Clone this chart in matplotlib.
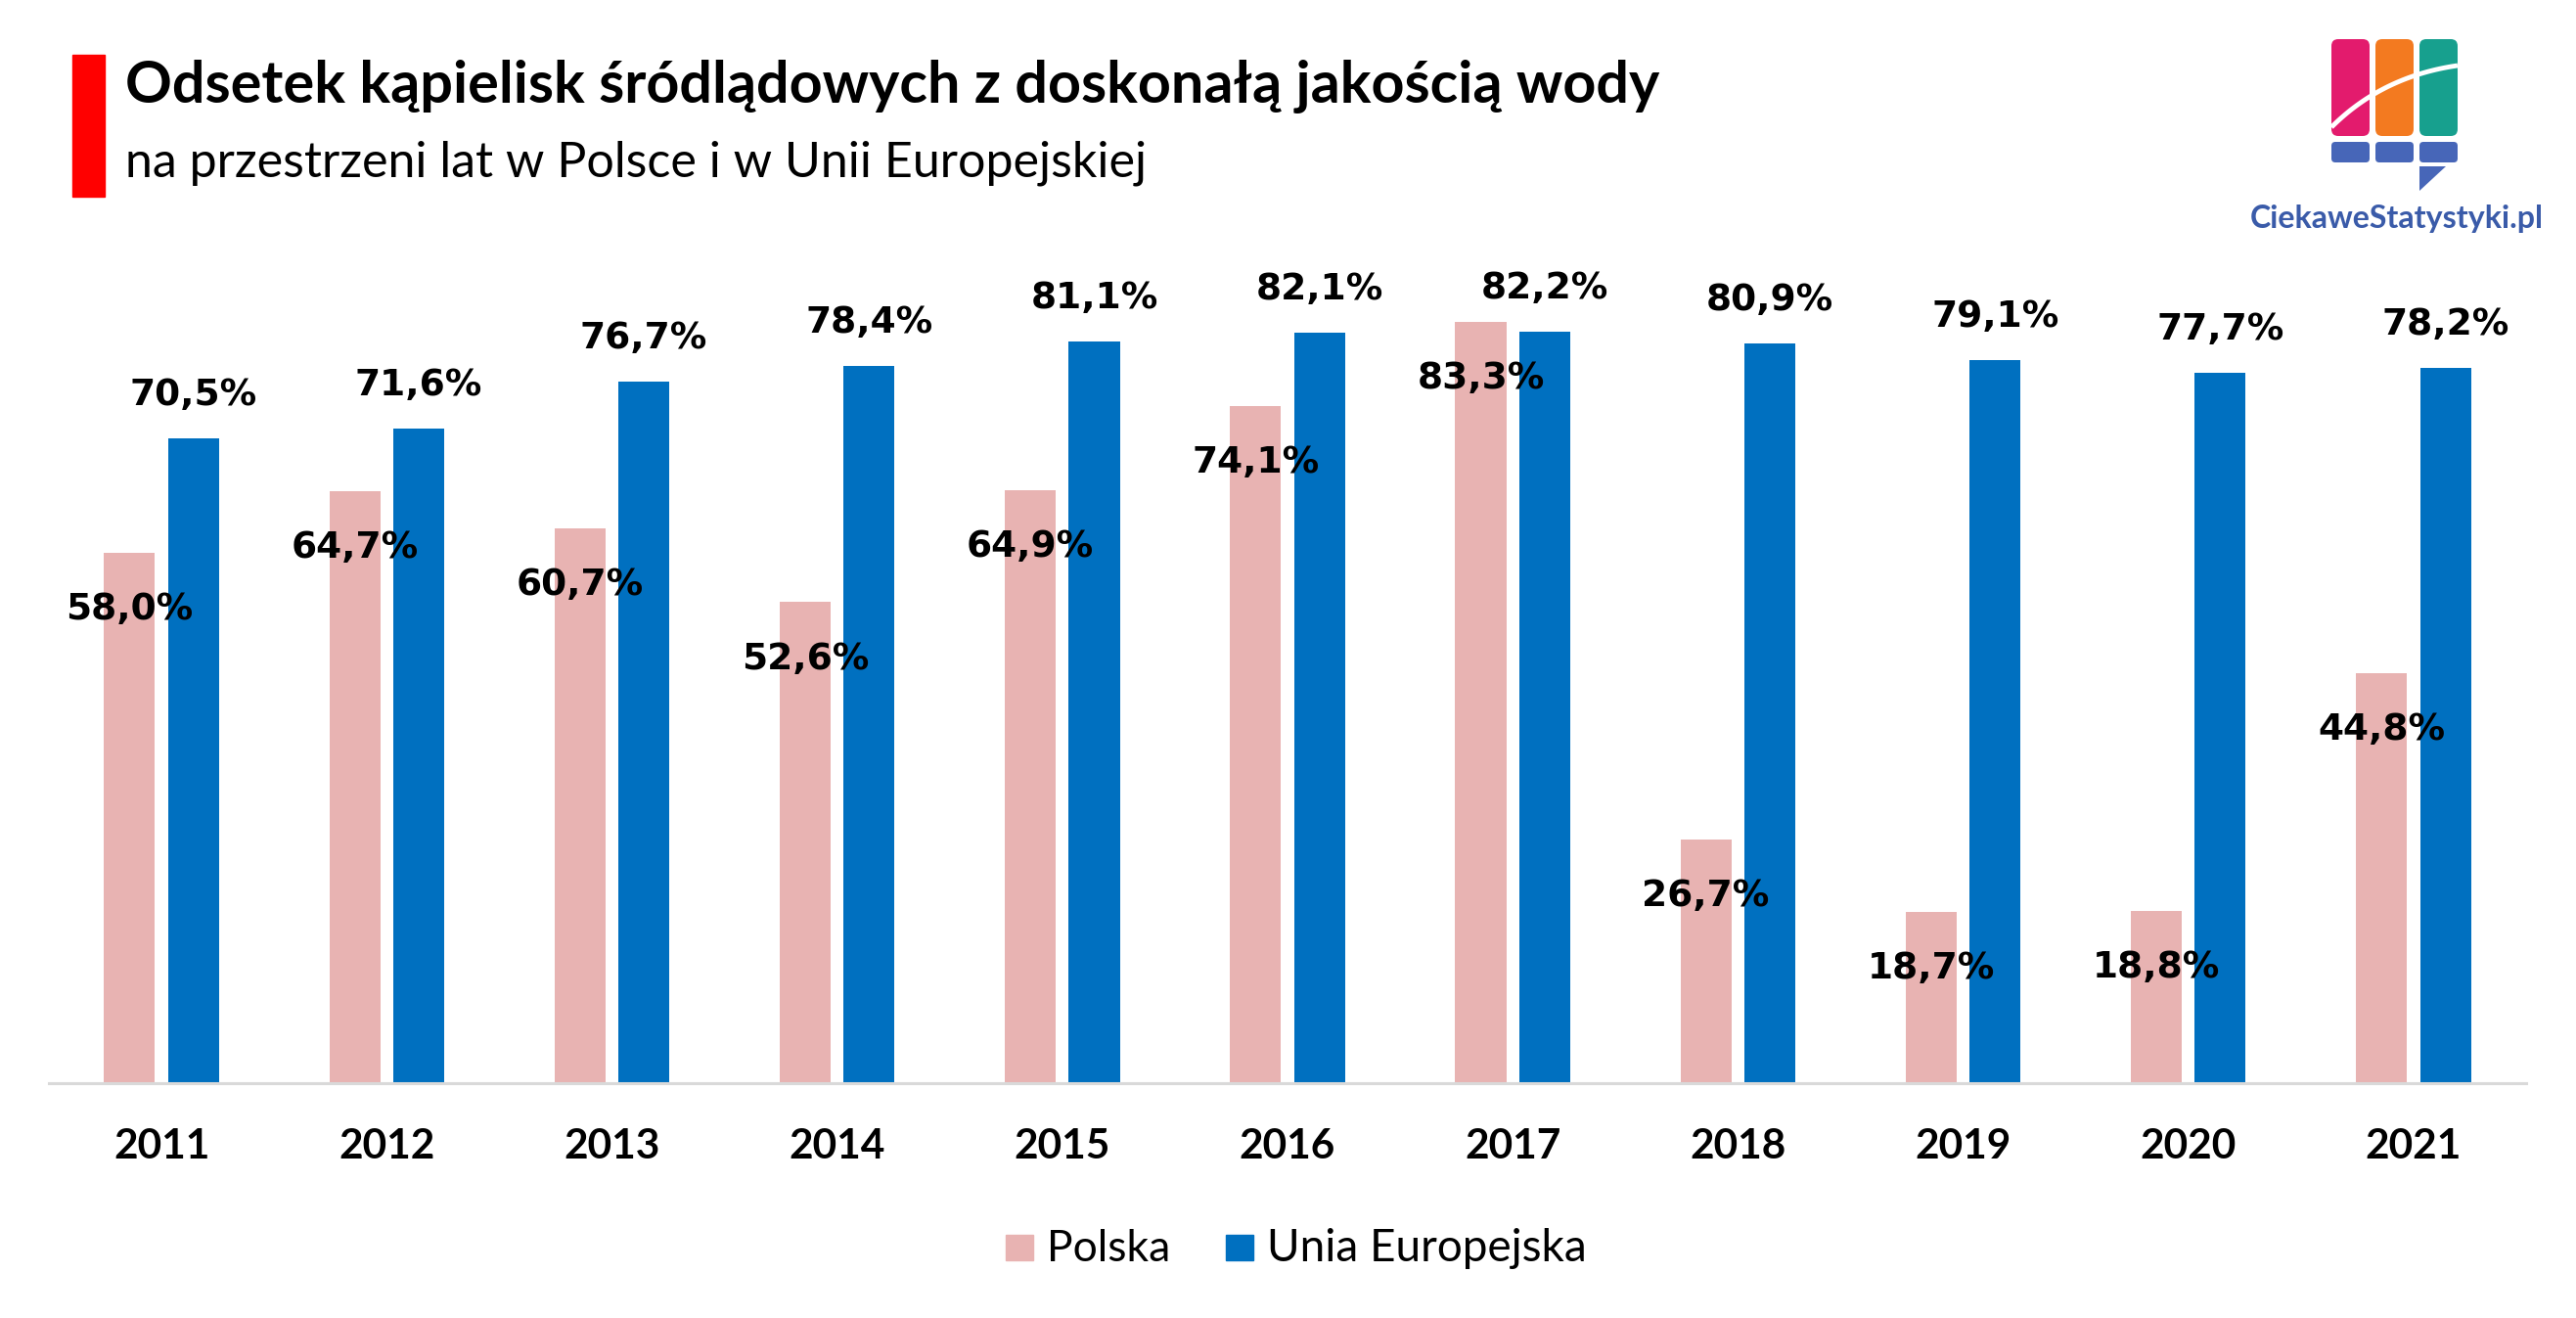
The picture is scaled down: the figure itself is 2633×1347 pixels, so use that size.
import matplotlib
matplotlib.use('Agg')
import matplotlib.pyplot as plt
from matplotlib.patches import Rectangle, FancyBboxPatch, Polygon
import numpy as np

# data
years = ['2011', '2012', '2013', '2014', '2015', '2016', '2017', '2018', '2019', '2020', '2021']
polska = [58.0, 64.7, 60.7, 52.6, 64.9, 74.1, 83.3, 26.7, 18.7, 18.8, 44.8]
unia = [70.5, 71.6, 76.7, 78.4, 81.1, 82.1, 82.2, 80.9, 79.1, 77.7, 78.2]
series_names = ['Polska', 'Unia Europejska']

PINK = '#E8B3B2'
BLUE = '#0070C0'

W, H = 2633, 1347
fig = plt.figure(figsize=(W / 100, H / 100), dpi=100)
renderer = fig.canvas.get_renderer()


def fx(px):
    return px / W


def fy(py):
    return 1 - py / H


def fit_width(t, target_px):
    '''scale font so the text gets the wanted width in pixels'''
    w = t.get_window_extent(renderer).width
    t.set_fontsize(t.get_fontsize() * target_px / w)


def fmt(v):
    return f'{v:.1f}%'.replace('.', ',')


# main bar chart
ax = fig.add_axes([fx(50), fy(1107), 2532 / W, 841 / H])
x = np.arange(len(years))
bw = 0.226
off = 0.142
ax.bar(x - off, polska, bw, color=PINK)
ax.bar(x + off, unia, bw, color=BLUE)
ax.set_xlim(-0.5, 10.5)
ax.set_ylim(0, 90)
for s in ['top', 'left', 'right']:
    ax.spines[s].set_visible(False)
ax.spines['bottom'].set_color('#D9D9D9')
ax.spines['bottom'].set_linewidth(2.2)
ax.set_xticks([])
ax.set_yticks([])

for i, v in enumerate(polska):
    ax.annotate(fmt(v), xy=(i - off, v), xytext=(0, -49), textcoords='offset points',
                ha='center', va='baseline', fontsize=27, fontweight='bold',
                family='DejaVu Sans', annotation_clip=False)
for i, v in enumerate(unia):
    ax.annotate(fmt(v), xy=(i + off, v), xytext=(0, 24.5), textcoords='offset points',
                ha='center', va='baseline', fontsize=27, fontweight='bold',
                family='DejaVu Sans', annotation_clip=False)
for i, y in enumerate(years):
    ax.annotate(y, xy=(i, 0), xycoords=('data', 'axes fraction'), xytext=(0, -55.4),
                textcoords='offset points', ha='center', va='baseline',
                fontsize=30.5, fontweight='bold', family='Lato', annotation_clip=False)

# title block
fig.patches.append(Rectangle((fx(74), fy(201)), 33 / W, 145 / H,
                             transform=fig.transFigure, color='#FF0000'))
t1 = fig.text(fx(128), fy(105), 'Odsetek kąpielisk śródlądowych z doskonałą jakością wody',
              fontsize=36, fontweight='bold', family='Lato', va='baseline')
fit_width(t1, 1563)
t2 = fig.text(fx(128), fy(180), 'na przestrzeni lat w Polsce i w Unii Europejskiej',
              fontsize=30, family='Lato', va='baseline')
fit_width(t2, 1043)

# legend
fig.patches.append(Rectangle((fx(1028), fy(1288)), 28 / W, 26 / H,
                             transform=fig.transFigure, color=PINK))
fig.patches.append(Rectangle((fx(1253), fy(1288)), 28 / W, 26 / H,
                             transform=fig.transFigure, color=BLUE))
l1 = fig.text(fx(1070), fy(1289), series_names[0], fontsize=30, family='Lato', va='baseline')
fit_width(l1, 126)
l2 = fig.text(fx(1295), fy(1289), series_names[1], fontsize=30, family='Lato', va='baseline')
fit_width(l2, 326)

# logo (axes in pixel units, y pointing down)
lx0, lx1, ly0, ly1 = 2290, 2633, 20, 250
lax = fig.add_axes([fx(lx0), fy(ly1), (lx1 - lx0) / W, (ly1 - ly0) / H])
lax.set_xlim(lx0, lx1)
lax.set_ylim(ly1, ly0)
lax.axis('off')
for x0, c in [(2383, '#E31B6D'), (2428, '#F37A20'), (2473, '#17A08E')]:
    lax.add_patch(FancyBboxPatch((x0, 40), 39, 99, boxstyle='round,pad=0,rounding_size=7',
                                 color=c, lw=0))
    lax.add_patch(FancyBboxPatch((x0, 145), 39, 21, boxstyle='round,pad=0,rounding_size=4',
                                 color='#4766B8', lw=0))
lax.add_patch(Polygon([(2473, 170), (2500, 170), (2473, 195)], closed=True,
                      color='#4766B8', lw=0))
tt = np.linspace(0, 1, 50)
p0, p1, p2 = np.array([2383, 130]), np.array([2435, 78]), np.array([2512, 67])
curve = ((1 - tt) ** 2)[:, None] * p0 + (2 * (1 - tt) * tt)[:, None] * p1 + (tt ** 2)[:, None] * p2
lax.plot(curve[:, 0], curve[:, 1], color='white', lw=3.5, solid_capstyle='butt')
lt = fig.text(fx(2300), fy(233), 'CiekaweStatystyki.pl', fontsize=22, fontweight='bold',
              family='Lato', color='#3A5BA9', va='baseline')
fit_width(lt, 300)

fig.savefig('out.png', dpi=100)
